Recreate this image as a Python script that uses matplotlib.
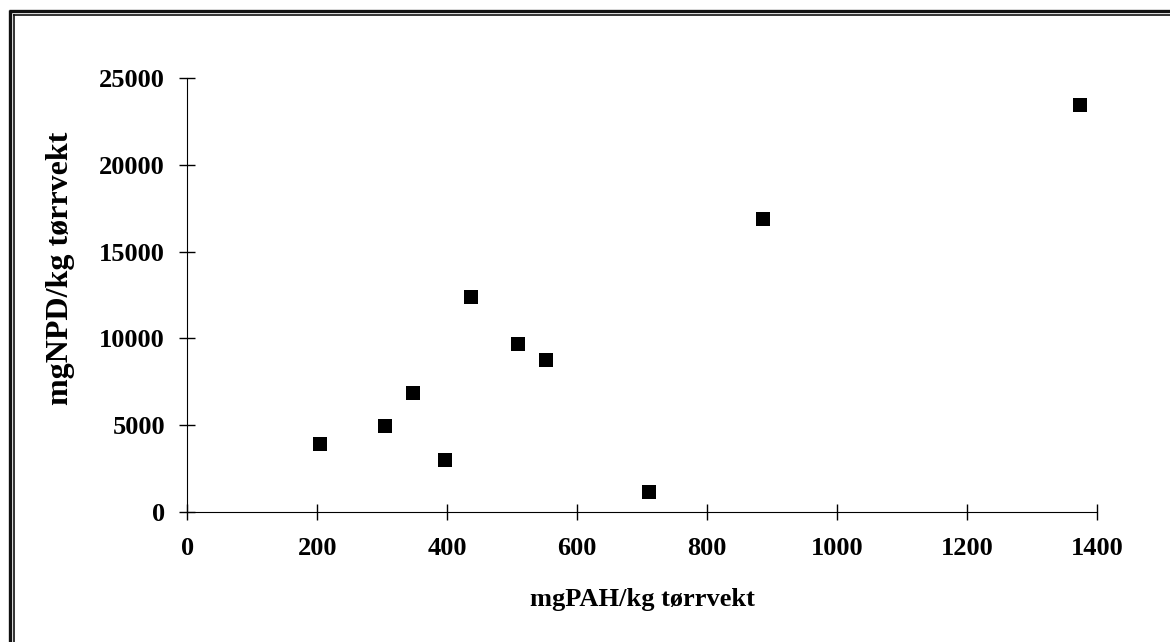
import matplotlib
matplotlib.use("Agg")
from matplotlib import pyplot as plt
from matplotlib.lines import Line2D

# values
pah = [205, 305, 348, 397, 437, 509, 552, 711, 886, 1374]
npd = [3900, 4950, 6850, 3000, 12400, 9650, 8750, 1150, 16900, 23450]
xticks = [0, 200, 400, 600, 800, 1000, 1200, 1400]
yticks = [0, 5000, 10000, 15000, 20000, 25000]

plt.rcParams['font.family'] = ['Liberation Serif', 'DejaVu Serif']
plt.rcParams['font.weight'] = 'bold'

W, H = 1170, 642
fig = plt.figure(figsize=(W / 100, H / 100), dpi=100)
ax = fig.add_axes([0.160, 0.2025, 0.7776, 0.676])

ax.scatter(pah, npd, marker='s', s=110, color='black', zorder=3, linewidths=0)

ax.set_xlim(0, 1400)
ax.set_ylim(0, 25000)
ax.set_xticks(xticks)
ax.set_yticks(yticks)
ax.tick_params(direction='inout', length=12, width=1, labelsize=19, pad=12)
ax.tick_params(axis='y', pad=10)
for lbl in ax.get_xticklabels() + ax.get_yticklabels():
    lbl.set_fontweight('bold')

ax.spines['top'].set_visible(False)
ax.spines['right'].set_visible(False)

ax.set_xlabel('mgPAH/kg tørrvekt', fontsize=19, fontweight='bold', labelpad=20)
ax.set_ylabel('mgNPD/kg tørrvekt', fontsize=23, fontweight='bold')
ax.yaxis.set_label_coords(75 / W, 0.5, transform=fig.transFigure)
ax.yaxis.label.set_y((1 - 268 / H))

# double frame on top and left edges (pixel positions converted to figure coords)
def px(x, y):
    return x / W, 1 - y / H

for xy0, xy1, lw in [((8.5, 10.5), (W + 5, 10.5), 2.4),
                     ((12.5, 14.5), (W + 5, 14.5), 1.2),
                     ((9.5, 9.5), (9.5, H + 5), 2.4),
                     ((13.5, 13.5), (13.5, H + 5), 1.2)]:
    (x0, y0), (x1, y1) = px(*xy0), px(*xy1)
    fig.add_artist(Line2D([x0, x1], [y0, y1], transform=fig.transFigure,
                          color='#111111', lw=lw, solid_capstyle='butt'))

fig.savefig('out.png', dpi=100)
